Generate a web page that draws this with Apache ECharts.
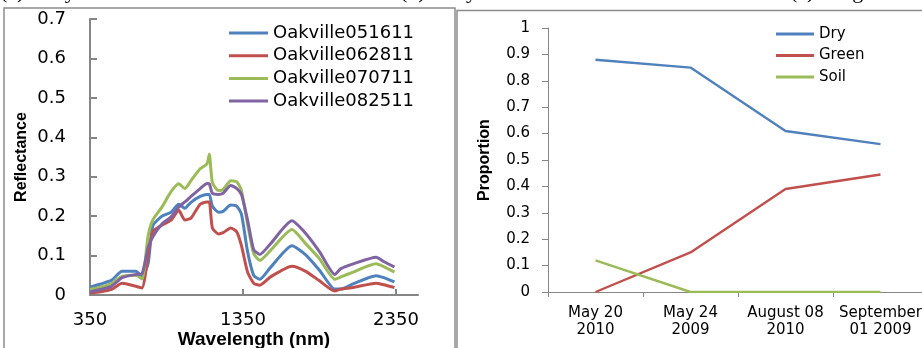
<!DOCTYPE html>
<html>
<head>
<meta charset="utf-8">
<script src="https://cdn.jsdelivr.net/npm/echarts@6/dist/echarts.min.js"></script>
<style>
html, body { margin: 0; padding: 0; background: #fff; }
#chart { width: 922px; height: 348px; }
</style>
</head>
<body>
<div id="chart"></div>
<script>
// left panel: spectra (wavelength nm -> reflectance)
const wavelengths = [350, 420, 490, 560, 650, 690, 730, 760, 820, 880, 930, 970, 1010, 1070, 1115, 1130, 1150, 1190, 1220, 1270, 1310, 1340, 1380, 1420, 1460, 1530, 1670, 1760, 1850, 1950, 1990, 2070, 2220, 2270, 2340]
const oak051611 = [.020, .028, .037, .060, .060, .047, .080, .175, .200, .210, .230, .220, .235, .250, .255, .255, .225, .210, .212, .228, .225, .205, .110, .050, .040, .070, .125, .102, .063, .015, .015, .028, .049, .044, .033]
const oak062811 = [.005, .008, .014, .030, .022, .018, .100, .160, .177, .190, .215, .190, .195, .230, .236, .236, .170, .155, .158, .170, .160, .125, .058, .030, .025, .046, .073, .060, .036, .010, .015, .019, .030, .026, .019]
const oak070711 = [.014, .020, .029, .047, .050, .041, .150, .190, .223, .262, .282, .270, .290, .320, .333, .357, .285, .265, .268, .290, .287, .265, .180, .105, .088, .113, .166, .130, .092, .040, .046, .058, .079, .072, .058]
const oak082511 = [.008, .014, .022, .044, .052, .054, .120, .147, .180, .198, .223, .236, .250, .270, .283, .282, .258, .255, .258, .278, .270, .255, .190, .115, .103, .130, .188, .156, .110, .052, .067, .079, .096, .085, .071]
const wlTicks = [350, 1350, 2350]

// right panel: proportions by date
const dates = ['May 20\n2010', 'May 24\n2009', 'August 08\n2010', 'September\n01 2009']
const dry = [0.88, 0.85, 0.61, 0.56]
const green = [0, 0.15, 0.39, 0.445]
const soil = [0.12, 0, 0, 0]

const blue = '#4F81BD', red = '#C0504D', lime = '#9BBB59', violet = '#8064A2'
const axisGrey = '#868686'
const sans = 'DejaVu Sans'

const pairs = vals => wavelengths.map((w, i) => [w, vals[i]])

let chart = echarts.init(document.getElementById('chart'))

const spec = (name, vals, color) => ({
  name, type: 'line', xAxisIndex: 0, yAxisIndex: 0,
  data: pairs(vals), symbol: 'none', smooth: 0.2,
  lineStyle: { width: 3, color }, itemStyle: { color }
})
const prop = (name, vals, color) => ({
  name, type: 'line', xAxisIndex: 1, yAxisIndex: 1,
  data: vals, symbol: 'none',
  lineStyle: { width: 2.4, color }, itemStyle: { color }
})

let option = {
  animation: false,
  backgroundColor: '#fff',
  graphic: [
    { type: 'rect', shape: { x: 4, y: 8, width: 451, height: 360 }, style: { fill: 'none', stroke: '#8c8c8c', lineWidth: 1.5 } },
    { type: 'rect', shape: { x: 457, y: 10.5, width: 480, height: 360 }, style: { fill: 'none', stroke: '#8c8c8c', lineWidth: 1.5 } },
    { type: 'text', left: 0, top: -19, style: { text: '(a). May 20 2010', font: '22px "Liberation Serif"', fill: '#000' } },
    { type: 'text', left: 400, top: -19, style: { text: '(b). May 24 2009', font: '22px "Liberation Serif"', fill: '#000' } },
    { type: 'text', left: 790, top: -19, style: { text: '(c). August 08 2010', font: '22px "Liberation Serif"', fill: '#000' } }
  ],
  legend: [
    {
      data: ['Oakville051611', 'Oakville062811', 'Oakville070711', 'Oakville082511'],
      orient: 'vertical', left: 229, top: 24, padding: 0, icon: 'rect',
      itemWidth: 39, itemHeight: 3, itemGap: 4.7,
      textStyle: { fontFamily: sans, fontSize: 18, color: '#000' }
    },
    {
      data: ['Dry', 'Green', 'Soil'],
      orient: 'vertical', left: 776, top: 26.5, padding: 0, icon: 'rect',
      itemWidth: 38, itemHeight: 3, itemGap: 6.5,
      textStyle: { fontFamily: sans, fontSize: 15, color: '#000' }
    }
  ],
  grid: [
    { left: 90, top: 19, width: 328, height: 276, outerBoundsMode: 'none' },
    { left: 548, top: 28, width: 380, height: 264, outerBoundsMode: 'none' }
  ],
  xAxis: [
    {
      gridIndex: 0, type: 'value', min: 350, max: 2494,
      name: 'Wavelength (nm)', nameLocation: 'middle', nameGap: 35, nameMoveOverlap: false,
      nameTextStyle: { fontFamily: 'Liberation Sans', fontWeight: 'bold', fontSize: 19, color: '#000' },
      axisLine: { show: true, lineStyle: { color: axisGrey, width: 2 } },
      axisTick: { show: true, inside: true, length: 6, customValues: wlTicks, lineStyle: { color: axisGrey, width: 2 } },
      axisLabel: { customValues: wlTicks, formatter: v => String(v), margin: 16, fontFamily: sans, fontSize: 18, color: '#000' },
      splitLine: { show: false }
    },
    {
      gridIndex: 1, type: 'category', data: dates, boundaryGap: true,
      axisLine: { show: true, lineStyle: { color: axisGrey, width: 1 } },
      axisTick: { show: true, length: 5, lineStyle: { color: axisGrey } },
      axisLabel: { interval: 0, margin: 13, lineHeight: 17, fontFamily: sans, fontSize: 15, color: '#000' },
      splitLine: { show: false }
    }
  ],
  yAxis: [
    {
      gridIndex: 0, type: 'value', min: 0, max: 0.7, interval: 0.1,
      name: 'Reflectance', nameLocation: 'middle', nameGap: 60,
      nameTextStyle: { fontFamily: 'Liberation Sans', fontWeight: 'bold', fontSize: 16, color: '#000' },
      axisLine: { show: true, lineStyle: { color: axisGrey, width: 2 } },
      axisTick: { show: true, inside: true, length: 7, lineStyle: { color: axisGrey, width: 2 } },
      axisLabel: { margin: 24, fontFamily: sans, fontSize: 18, color: '#000' },
      splitLine: { show: false }
    },
    {
      gridIndex: 1, type: 'value', min: 0, max: 1, interval: 0.1,
      name: 'Proportion', nameLocation: 'middle', nameGap: 55,
      nameTextStyle: { fontFamily: 'Liberation Sans', fontWeight: 'bold', fontSize: 16, color: '#000' },
      axisLine: { show: true, lineStyle: { color: axisGrey, width: 1 } },
      axisTick: { show: true, length: 6, lineStyle: { color: axisGrey } },
      axisLabel: { margin: 18, fontFamily: sans, fontSize: 15, color: '#000' },
      splitLine: { show: false }
    }
  ],
  series: [
    spec('Oakville051611', oak051611, blue),
    spec('Oakville062811', oak062811, red),
    spec('Oakville070711', oak070711, lime),
    spec('Oakville082511', oak082511, violet),
    prop('Dry', dry, blue),
    prop('Green', green, red),
    prop('Soil', soil, lime)
  ]
}
chart.setOption(option)
</script>
</body>
</html>
